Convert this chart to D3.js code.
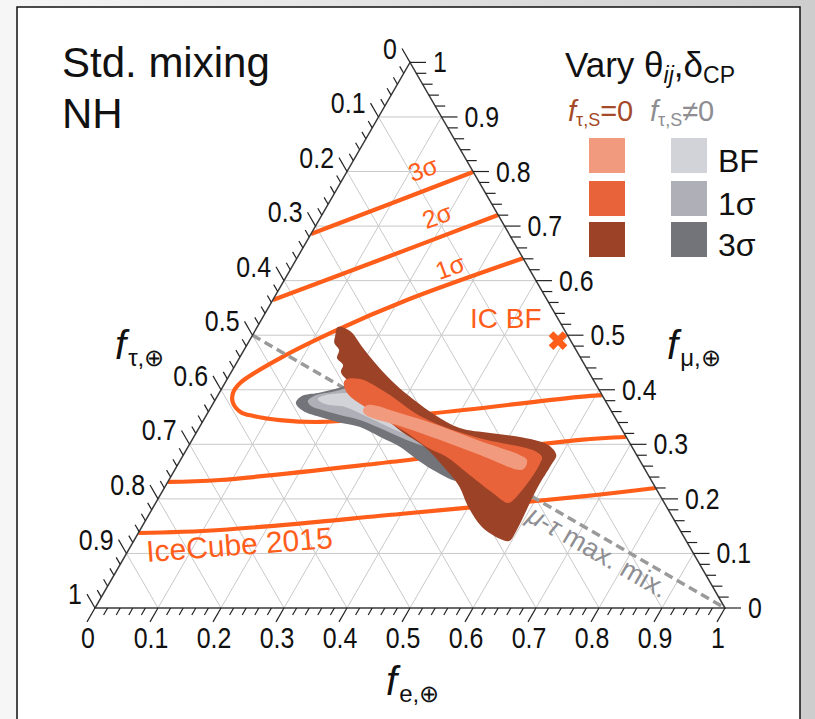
<!DOCTYPE html>
<html>
<head>
<meta charset="utf-8">
<script src="https://cdn.jsdelivr.net/npm/d3@7"></script>
<style>
  html, body { margin: 0; padding: 0; background: #fff; }
  svg { display: block; font-family: "Liberation Sans", Arial, Helvetica, sans-serif; }
</style>
</head>
<body>
<svg id="chart" width="815" height="719"></svg>
<script>
// Ternary plot of neutrino flavor composition at Earth.
// Every point is stored as [f_e, f_mu]; f_tau = 1 - f_e - f_mu.

const majorTicks = [0, 0.1, 0.2, 0.3, 0.4, 0.5, 0.6, 0.7, 0.8, 0.9, 1];
const tickLabels = ["0", "0.1", "0.2", "0.3", "0.4", "0.5", "0.6", "0.7", "0.8", "0.9", "1"];
const minorStep = 0.02;

// IceCube 2015 flavor-fit contours
const ic1Sigma = [
  [0.359, 0.641], [0.213, 0.5645], [0.127, 0.508], [0.065, 0.458], [0.024, 0.412],
  [0.022, 0.394], [0.031, 0.376], [0.052, 0.359], [0.075, 0.352], [0.121, 0.3445],
  [0.187, 0.341], [0.358, 0.357], [0.576, 0.387], [0.610, 0.390]
];
const ic2SigmaUpper = [[0, 0.5645], [0.14, 0.642], [0.2795, 0.7203]];
const ic2SigmaLower = [[0, 0.231], [0.081, 0.2346], [0.349, 0.2694], [0.616, 0.308], [0.686, 0.3134]];
const ic3SigmaUpper = [[0, 0.6855], [0.10, 0.742], [0.2005, 0.799]];
const ic3SigmaLower = [[0, 0.1375], [0.127, 0.143], [0.398, 0.1723], [0.668, 0.204], [0.780, 0.22]];
const icBestFit = [0.49, 0.49];

// mu-tau maximal mixing line (f_mu = f_tau)
const muTauLine = [[0, 0.5], [1, 0]];

// Allowed regions, f_tau,S != 0 (grey)
const grey3Sigma = [
  [0.131, 0.3757], [0.134, 0.3886], [0.157, 0.3941], [0.180, 0.4014], [0.203, 0.4106],
  [0.240, 0.4087], [0.334, 0.3629], [0.441, 0.3079], [0.490, 0.2621], [0.470, 0.2310],
  [0.410, 0.2530], [0.372, 0.2740], [0.337, 0.2951], [0.296, 0.3134], [0.255, 0.3317],
  [0.214, 0.3409], [0.182, 0.3501], [0.150, 0.3611]
];
const grey1Sigma = [
  [0.148, 0.3794], [0.156, 0.3904], [0.178, 0.3959], [0.200, 0.4032], [0.230, 0.4069],
  [0.314, 0.3721], [0.400, 0.3262], [0.403, 0.2896], [0.367, 0.2988], [0.327, 0.3134],
  [0.287, 0.3299], [0.248, 0.3446], [0.212, 0.3537], [0.179, 0.3629], [0.158, 0.3702]
];
const greyBF = [
  [0.162, 0.3831], [0.171, 0.3904], [0.200, 0.3941], [0.231, 0.3959], [0.303, 0.3629],
  [0.369, 0.3262], [0.370, 0.3079], [0.323, 0.3226], [0.262, 0.3482], [0.213, 0.3684],
  [0.178, 0.3739]
];

// Allowed regions, f_tau,S = 0 (orange)
const orange3Sigma = [
  [0.128, 0.515], [0.151, 0.5077], [0.185, 0.4784], [0.227, 0.4435], [0.271, 0.4106],
  [0.313, 0.3831], [0.363, 0.3537], [0.414, 0.3299], [0.467, 0.3207], [0.518, 0.3134],
  [0.570, 0.2988], [0.592, 0.2804], [0.593, 0.2621], [0.592, 0.2218], [0.595, 0.1815],
  [0.598, 0.143], [0.596, 0.1228], [0.580, 0.1265], [0.540, 0.1485], [0.500, 0.1851],
  [0.466, 0.2236], [0.422, 0.2603], [0.373, 0.2970], [0.326, 0.3226], [0.279, 0.3537],
  [0.234, 0.3867], [0.191, 0.4179], [0.174, 0.4326], [0.171, 0.4454], [0.155, 0.4582],
  [0.151, 0.4729], [0.137, 0.4857], [0.132, 0.4985]
];
const orange1Sigma = [
  [0.188, 0.4179], [0.211, 0.4197], [0.266, 0.3941], [0.340, 0.3519], [0.405, 0.3262],
  [0.468, 0.3079], [0.550, 0.2896], [0.571, 0.2768], [0.574, 0.2639], [0.573, 0.2346],
  [0.565, 0.1979], [0.559, 0.1924], [0.526, 0.2108], [0.467, 0.2474], [0.420, 0.2768],
  [0.379, 0.2951], [0.335, 0.3207], [0.292, 0.3427], [0.248, 0.3666], [0.210, 0.3886],
  [0.193, 0.4051]
];
const orangeBF = [
  [0.247, 0.3721], [0.305, 0.3574], [0.381, 0.3336], [0.458, 0.3061], [0.534, 0.2804],
  [0.550, 0.2713], [0.554, 0.2566], [0.548, 0.2529], [0.471, 0.2804], [0.394, 0.3079],
  [0.317, 0.3336], [0.253, 0.3537], [0.244, 0.3629]
];

const colors = {
  icLine: "#ff5d1a",
  grid: "#c9c9c9",
  axis: "#3a3a3a",
  orangeBF: "#f29a7e", orange1: "#e9633a", orange3: "#9c4227",
  greyBF: "#d2d3d8", grey1: "#afb0b7", grey3: "#737479",
  brownText: "#a44a29", greyText: "#8d8d92", muTau: "#9a9a9a"
};

// ---- scales: f_e + f_mu/2 horizontally, f_mu vertically ----
const xScale = d3.scaleLinear().domain([0, 1]).range([95, 725]);
const yScale = d3.scaleLinear().domain([0, 1]).range([608, 62.4]);
const proj = ([fe, fm]) => [xScale(fe + fm / 2), yScale(fm)];

const svg = d3.select("#chart");
const defs = svg.append("defs");

const bg = defs.append("linearGradient").attr("id", "bgGrad")
  .attr("x1", "0").attr("y1", "0").attr("x2", "1").attr("y2", "0");
bg.append("stop").attr("offset", "0").attr("stop-color", "#f6f6f6");
bg.append("stop").attr("offset", "1").attr("stop-color", "#cdcdcd");

const corners = [[0, 0], [1, 0], [0, 1]];
defs.append("clipPath").attr("id", "tri")
  .append("path").attr("d", "M" + corners.map(proj).join("L") + "Z");

svg.append("rect").attr("width", 815).attr("height", 719).attr("fill", "url(#bgGrad)");
svg.append("rect").attr("x", 17).attr("y", 7).attr("width", 783).attr("height", 740)
  .attr("fill", "#fff").attr("stroke", "#111").attr("stroke-width", 1.5);

// ---- grid ----
const gridG = svg.append("g").attr("stroke", colors.grid).attr("stroke-width", 1).attr("fill", "none");
majorTicks.slice(1, -1).forEach(v => {
  const segs = [
    [[v, 0], [v, 1 - v]],
    [[0, v], [1 - v, v]],
    [[1 - v, 0], [0, 1 - v]]
  ];
  segs.forEach(s => {
    const a = proj(s[0]), b = proj(s[1]);
    gridG.append("line").attr("x1", a[0]).attr("y1", a[1]).attr("x2", b[0]).attr("y2", b[1]);
  });
});

// ---- IceCube contours ----
const smooth = d3.line().x(d => proj(d)[0]).y(d => proj(d)[1]).curve(d3.curveCatmullRom.alpha(0.5));
const icG = svg.append("g").attr("clip-path", "url(#tri)")
  .attr("fill", "none").attr("stroke", colors.icLine).attr("stroke-width", 4.2);
[ic1Sigma, ic2SigmaUpper, ic2SigmaLower, ic3SigmaUpper, ic3SigmaLower].forEach(c => {
  icG.append("path").attr("d", smooth(c));
});

// ---- mu-tau max mixing ----
const mt = muTauLine.map(proj);
svg.append("line").attr("x1", mt[0][0]).attr("y1", mt[0][1]).attr("x2", mt[1][0]).attr("y2", mt[1][1])
  .attr("stroke", colors.muTau).attr("stroke-width", 3.5).attr("stroke-dasharray", "9,5");

// ---- allowed regions ----
const blob = d3.line().x(d => proj(d)[0]).y(d => proj(d)[1]).curve(d3.curveCatmullRomClosed.alpha(0.5));
[[grey3Sigma, colors.grey3], [grey1Sigma, colors.grey1], [greyBF, colors.greyBF],
 [orange3Sigma, colors.orange3], [orange1Sigma, colors.orange1], [orangeBF, colors.orangeBF]]
  .forEach(([pts, col]) => {
    svg.append("path").attr("d", blob(pts)).attr("fill", col);
  });

// ---- IceCube best fit marker ----
const bf = proj(icBestFit);
svg.append("path").attr("d", d3.symbol(d3.symbolCross, 220)())
  .attr("transform", `translate(${bf[0]},${bf[1]}) rotate(45)`)
  .attr("fill", colors.icLine);

// ---- axes ----
const axG = svg.append("g");
axG.append("path").attr("d", "M" + corners.map(proj).join("L") + "Z")
  .attr("fill", "none").attr("stroke", colors.axis).attr("stroke-width", 1.5);

const c60 = 0.5, s60 = Math.sqrt(3) / 2;
const nMinor = Math.round(1 / minorStep);
const tickG = axG.append("g").attr("stroke", "#222").attr("stroke-width", 1.2);
const labG = axG.append("g").attr("font-size", 29).attr("fill", "#111");
// tick labels use a narrowed face
const narrow = 0.86;
function tickText(x, y, anchor, s) {
  labG.append("text").attr("transform", `translate(${x},${y}) scale(${narrow},1)`)
    .attr("text-anchor", anchor).text(s);
}
for (let i = 0; i <= nMinor; i++) {
  const v = i * minorStep;
  const major = i % 5 === 0;
  const L = major ? 16 : 8;
  const LR = major ? 16 : 10;
  // bottom: f_e
  const pb = proj([v, 0]);
  const eb = [pb[0] - L * c60, pb[1] + L * s60];
  tickG.append("line").attr("x1", pb[0]).attr("y1", pb[1]).attr("x2", eb[0]).attr("y2", eb[1]);
  // right: f_mu
  const pr = proj([1 - v, v]);
  const er = [pr[0] + LR, pr[1]];
  tickG.append("line").attr("x1", pr[0]).attr("y1", pr[1]).attr("x2", er[0]).attr("y2", er[1]);
  // left: f_tau
  const pl = proj([0, 1 - v]);
  const el = [pl[0] - L * c60, pl[1] - L * s60];
  tickG.append("line").attr("x1", pl[0]).attr("y1", pl[1]).attr("x2", el[0]).attr("y2", el[1]);
  if (major) {
    const lbl = tickLabels[i / 5];
    tickText(eb[0] + 1, eb[1] + 26, "middle", lbl);
    tickText(er[0] + 7, er[1] + 10, "start", lbl);
    tickText(el[0] - 5, el[1] + 10, "end", lbl);
  }
}

// ---- axis titles ----
function flavorTitle(x, y, sub) {
  const t = svg.append("text").attr("x", x).attr("y", y).attr("fill", "#111");
  t.append("tspan").attr("font-style", "italic").attr("font-size", 40).text("f");
  t.append("tspan").attr("font-size", 24).attr("dx", 2).attr("dy", 7).text(sub);
}
flavorTitle(115, 359, "τ,⊕");
flavorTitle(667, 359, "μ,⊕");
flavorTitle(386, 695, "e,⊕");

// ---- headings ----
svg.append("text").attr("x", 62).attr("y", 77).attr("font-size", 42).attr("fill", "#111").text("Std. mixing");
svg.append("text").attr("x", 62).attr("y", 128).attr("font-size", 42).attr("fill", "#111").text("NH");

const vary = svg.append("text").attr("x", 565).attr("y", 77).attr("font-size", 35).attr("fill", "#111");
vary.append("tspan").text("Vary θ");
vary.append("tspan").attr("font-size", 23).attr("font-style", "italic").attr("dy", 6).text("ij");
vary.append("tspan").attr("dy", -6).text(",δ");
vary.append("tspan").attr("font-size", 23).attr("dy", 6).text("CP");

// ---- legend ----
function legendHead(x, y, col, rel) {
  const t = svg.append("text").attr("x", x).attr("y", y).attr("fill", col).attr("font-size", 29);
  t.append("tspan").attr("font-style", "italic").text("f");
  t.append("tspan").attr("font-size", 18).attr("dy", 5).text("τ,S");
  t.append("tspan").attr("dy", -5).text(rel);
}
legendHead(568, 121, colors.brownText, "=0");
legendHead(650, 121, colors.greyText, "≠0");

const legendRows = ["BF", "1σ", "3σ"];
const legendLeft = [colors.orangeBF, colors.orange1, colors.orange3];
const legendRight = [colors.greyBF, colors.grey1, colors.grey3];
const rowTop = [138, 181, 222];
legendRows.forEach((lab, i) => {
  svg.append("rect").attr("x", 589).attr("y", rowTop[i]).attr("width", 36).attr("height", 35).attr("fill", legendLeft[i]);
  svg.append("rect").attr("x", 671).attr("y", rowTop[i]).attr("width", 36).attr("height", 35).attr("fill", legendRight[i]);
  svg.append("text").attr("x", 718).attr("y", rowTop[i] + 34).attr("font-size", 32).attr("fill", "#111").text(lab);
});

// ---- annotations ----
const ann = svg.append("g").attr("fill", colors.icLine);
[["3σ", 423, 169], ["2σ", 437, 216], ["1σ", 450, 267]].forEach(([s, x, y]) => {
  ann.append("text").attr("transform", `translate(${x},${y}) rotate(-20)`)
    .attr("text-anchor", "middle").attr("dy", "0.35em").attr("font-size", 25).text(s);
});
ann.append("text").attr("x", 470).attr("y", 328).attr("font-size", 28).text("IC BF");
ann.append("text").attr("transform", "translate(147,562) rotate(-4.3)").attr("font-size", 30).text("IceCube 2015");

// mu-tau label, running along the dashed line
const mtAt = proj([0.61, 0.195]);
const mtText = svg.append("text")
  .attr("transform", `translate(${mtAt[0]},${mtAt[1]}) rotate(30)`)
  .attr("x", -4).attr("y", 24).attr("font-size", 27).attr("fill", colors.greyText);
mtText.append("tspan").attr("font-style", "italic").text("μ");
mtText.append("tspan").text("-");
mtText.append("tspan").attr("font-style", "italic").text("τ");
mtText.append("tspan").text(" max. mix.");
</script>
</body>
</html>
